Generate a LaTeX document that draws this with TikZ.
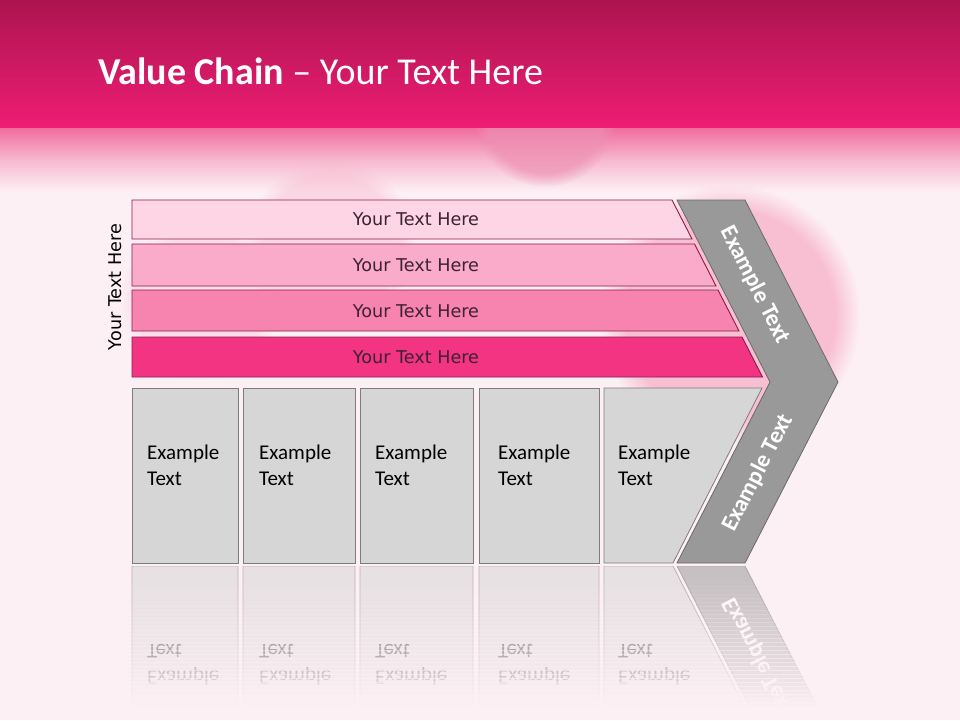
\documentclass[tikz,border=0pt]{standalone}
\usepackage{fontspec}
\setmainfont{Carlito}
\newfontfamily\tahoma{DejaVu Sans}
\usetikzlibrary{fadings}
\definecolor{bgpink}{HTML}{FDF0F5}
\definecolor{hdrtop}{HTML}{AC1450}
\definecolor{hdrbot}{HTML}{EE1D74}
\definecolor{fadetop}{HTML}{F06A9C}
\definecolor{fademid}{HTML}{F6B8CE}
\definecolor{blobpink}{HTML}{EE8FB2}
\definecolor{glowpink}{HTML}{F8B9CF}
\definecolor{barA}{HTML}{FDD5E5}
\definecolor{barB}{HTML}{F9ABC9}
\definecolor{barC}{HTML}{F784AE}
\definecolor{barD}{HTML}{F33483}
\definecolor{barline}{HTML}{8C1B4C}
\definecolor{bartext}{HTML}{3C2232}
\definecolor{boxfill}{HTML}{D6D6D6}
\definecolor{boxline}{HTML}{7C7C7C}
\definecolor{chevfill}{HTML}{999999}
\definecolor{chevline}{HTML}{6A6A6A}
\tikzset{
  barshape/.style={draw=barline, line width=0.9pt},
  bartxt/.style={font=\tahoma\fontsize{17.6}{20}\selectfont, text=bartext, inner sep=0pt},
  boxshape/.style={draw=boxline, line width=0.8pt, fill=boxfill},
  boxtxt/.style={font=\fontsize{21}{26}\selectfont, align=left, anchor=base west, inner sep=0pt, text=black},
  chevshape/.style={draw=chevline, line width=0.8pt, fill=chevfill},
  chevtxt/.style={font=\bfseries\fontsize{23.5}{28}\selectfont, text=white, inner sep=0pt},
  blob/.style={path fading=circle with fuzzy edge 20 percent}
}
\newcommand\vcgroup[1]{%
  \draw[boxshape] (132,388) rectangle (238,563);
  \draw[boxshape] (243,388) rectangle (355,563);
  \draw[boxshape] (360,388) rectangle (473,563);
  \draw[boxshape] (479,388) rectangle (599,563);
  \draw[boxshape] (604,388) -- (762,388) -- (673,563) -- (604,563) -- cycle;
  \node[boxtxt] (#1t1) at (147,485) {Example\\Text};
  \node[boxtxt] (#1t2) at (259,485) {Example\\Text};
  \node[boxtxt] (#1t3) at (375,485) {Example\\Text};
  \node[boxtxt] (#1t4) at (498,485) {Example\\Text};
  \node[boxtxt] (#1t5) at (618,485) {Example\\Text};
  \draw[chevshape] (677,200) -- (745,200) -- (838,382) -- (745,563) -- (677,563) -- (770,382) -- cycle;
  \node[chevtxt, rotate=62.9] (#1c2) at (758,473) {Example Text};
}
\begin{document}
\begin{tikzpicture}[x=1pt,y=-1pt]
\useasboundingbox (0,0) rectangle (960,720);
% background
\fill[bgpink] (0,0) rectangle (960,720);
\shade[top color=fadetop, bottom color=bgpink, middle color=fademid] (0,127) rectangle (960,192);
% decorative soft blobs
\fill[blobpink, opacity=0.7, blob] (545,115) circle (72);
\fill[glowpink, opacity=0.9, blob] (730,315) circle (130);
\fill[glowpink, opacity=0.45, blob] (330,245) circle (85);
\fill[glowpink, opacity=0.35, blob] (200,300) circle (80);
% header
\shade[top color=hdrtop, bottom color=hdrbot] (0,0) rectangle (960,127);
\node[anchor=base west, text=white, font=\fontsize{38}{42}\selectfont, inner sep=0pt] (title) at (98,84) {\textbf{Value Chain} – Your Text Here};
% bars
\draw[barshape, fill=barA] (132,200) -- (672,200) -- (692,239) -- (132,239) -- cycle;
\draw[barshape, fill=barB] (132,244) -- (694.5,244) -- (716,286) -- (132,286) -- cycle;
\draw[barshape, fill=barC] (132,290) -- (718,290) -- (739,331) -- (132,331) -- cycle;
\draw[barshape, fill=barD] (132,337) -- (742,337) -- (762.5,377) -- (132,377) -- cycle;
\node[bartxt] (b1) at (416,219) {Your Text Here};
\node[bartxt] (b2) at (416,265.5) {Your Text Here};
\node[bartxt] (b3) at (416,311) {Your Text Here};
\node[bartxt] (b4) at (416,357) {Your Text Here};
\node[bartxt, text=black, rotate=90] (side) at (115,287) {Your Text Here};
% main group
\vcgroup{m}
\node[chevtxt, rotate=-62.9] (mc1) at (755,285) {Example Text};
% reflection
\begin{scope}
\clip (0,566) rectangle (960,708);
\begin{scope}[shift={(0,1129)}, yscale=-1, transform shape, transparency group, opacity=0.55]
\vcgroup{r}
\end{scope}
\end{scope}
\foreach \i in {0,...,35} {
  \pgfmathsetmacro\op{(\i/35)^1.4}
  \fill[bgpink, opacity=\op] (0,{566+\i*4}) rectangle (960,{570.5+\i*4});
}
\fill[bgpink] (0,708) rectangle (960,720);
\end{tikzpicture}
\end{document}
